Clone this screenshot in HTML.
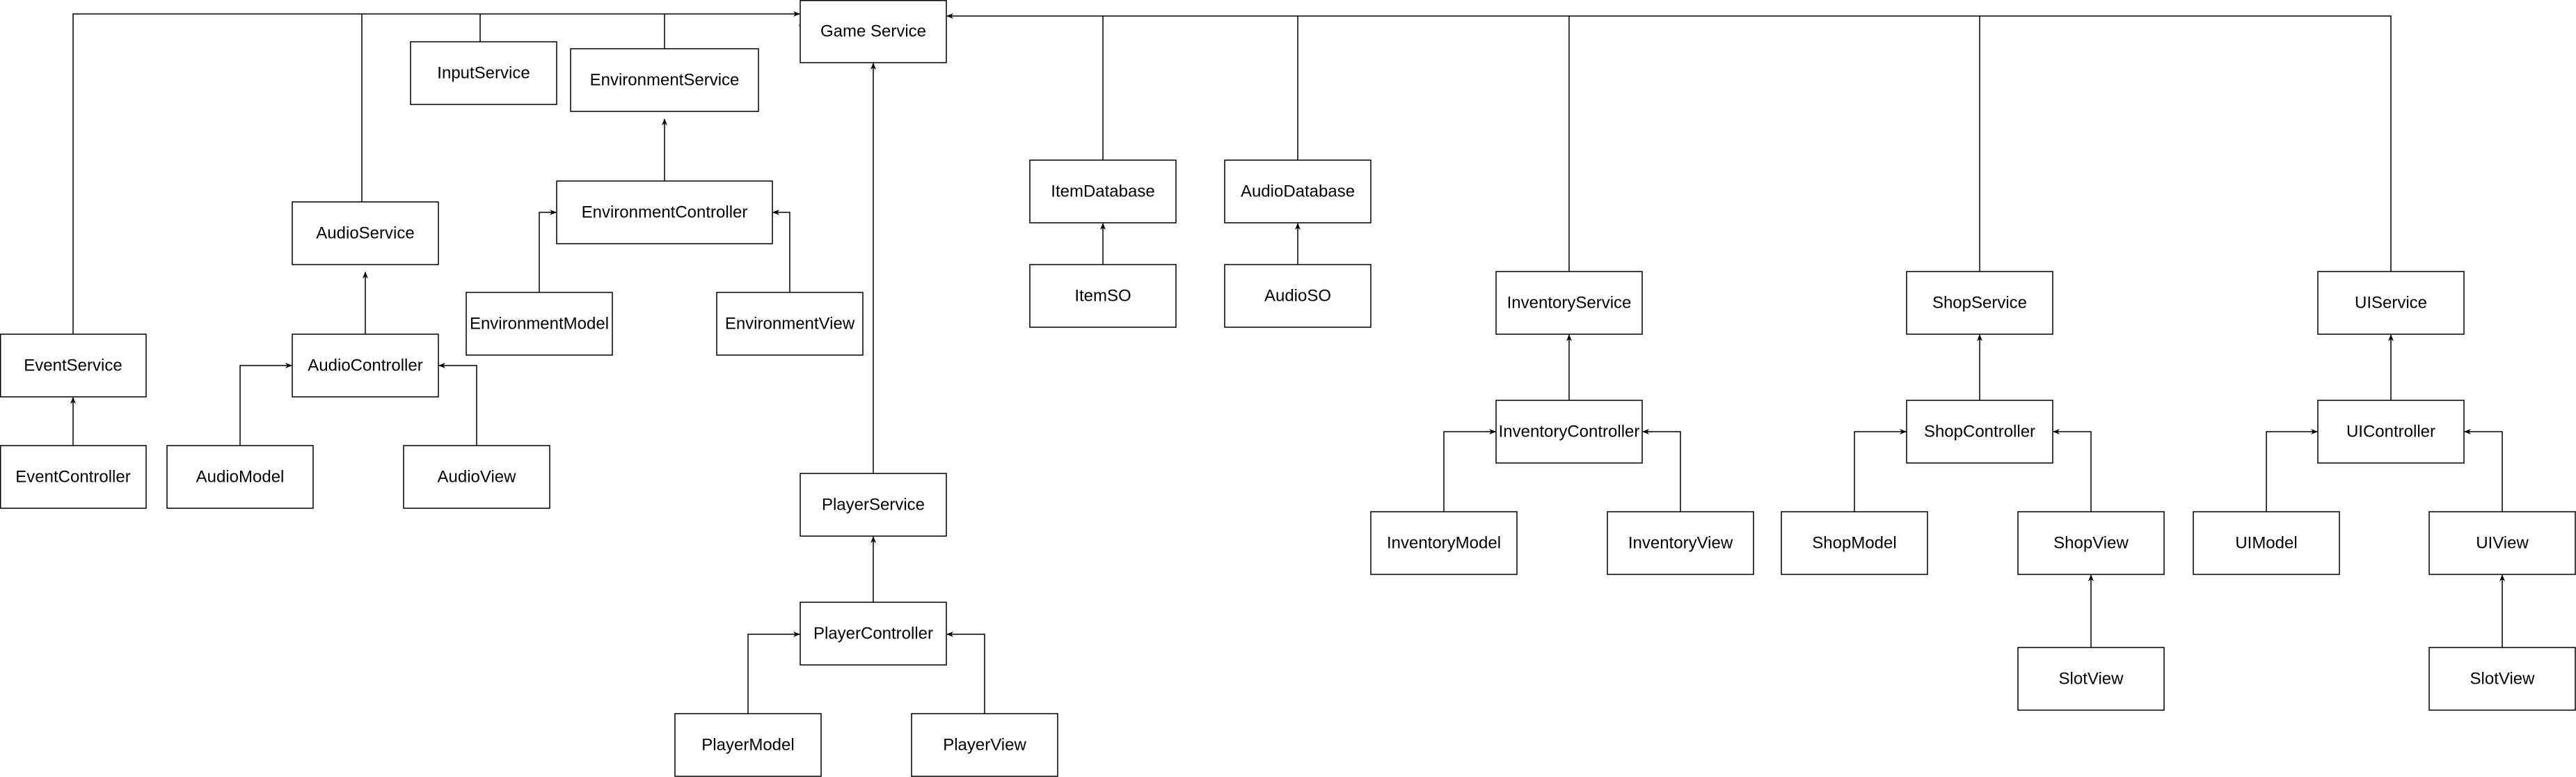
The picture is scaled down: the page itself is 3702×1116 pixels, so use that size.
<!DOCTYPE html>
<html><head><meta charset="utf-8"><style>
html,body{margin:0;padding:0;background:#fff;}
svg{display:block;}
text{font-family:"Liberation Sans",sans-serif;font-size:24px;fill:#000;}
</style></head><body>
<svg width="3702" height="1116" viewBox="0 0 3702 1116" xmlns="http://www.w3.org/2000/svg">
<defs>
<marker id="a" markerWidth="10" markerHeight="10" refX="9" refY="5" orient="auto" markerUnits="userSpaceOnUse">
<path d="M0,1 L10,5 L0,9 L3,5 Z" fill="#000"/>
</marker>
</defs>
<g fill="none" stroke="#000" stroke-width="1.5">
<!-- top left bus -->
<polyline points="105,480 105,20 1149,20" marker-end="url(#a)"/>
<line x1="520" y1="290" x2="520" y2="20"/>
<line x1="690" y1="60" x2="690" y2="20"/>
<line x1="955" y1="70" x2="955" y2="20"/>
<line x1="1152" y1="28" x2="1152" y2="44" marker-end="url(#a)"/>
<!-- right bus -->
<polyline points="3436,390 3436,23 1361,23" marker-end="url(#a)"/>
<line x1="1585" y1="230" x2="1585" y2="23"/>
<line x1="1865" y1="230" x2="1865" y2="23"/>
<line x1="2255" y1="390" x2="2255" y2="23"/>
<line x1="2845" y1="390" x2="2845" y2="23"/>
<!-- player -->
<line x1="1255" y1="680" x2="1255" y2="91" marker-end="url(#a)"/>
<line x1="1255" y1="865" x2="1255" y2="771" marker-end="url(#a)"/>
<polyline points="1075,1025 1075,911 1149,911" marker-end="url(#a)"/>
<polyline points="1415,1025 1415,911 1361,911" marker-end="url(#a)"/>
<!-- environment -->
<line x1="955" y1="260" x2="955" y2="171" marker-end="url(#a)"/>
<polyline points="775,420 775,305 799,305" marker-end="url(#a)"/>
<polyline points="1135,420 1135,305 1111,305" marker-end="url(#a)"/>
<!-- audio -->
<line x1="525" y1="480" x2="525" y2="391" marker-end="url(#a)"/>
<polyline points="345,640 345,525 419,525" marker-end="url(#a)"/>
<polyline points="685,640 685,525 631,525" marker-end="url(#a)"/>
<!-- event -->
<line x1="105" y1="640" x2="105" y2="571" marker-end="url(#a)"/>
<!-- db -->
<line x1="1585" y1="380" x2="1585" y2="321" marker-end="url(#a)"/>
<line x1="1865" y1="380" x2="1865" y2="321" marker-end="url(#a)"/>
<!-- inventory -->
<line x1="2255" y1="575" x2="2255" y2="481" marker-end="url(#a)"/>
<polyline points="2075,735 2075,620 2149,620" marker-end="url(#a)"/>
<polyline points="2415,735 2415,620 2361,620" marker-end="url(#a)"/>
<!-- shop -->
<line x1="2845" y1="575" x2="2845" y2="481" marker-end="url(#a)"/>
<polyline points="2665,735 2665,620 2739,620" marker-end="url(#a)"/>
<polyline points="3005,735 3005,620 2951,620" marker-end="url(#a)"/>
<line x1="3005" y1="930" x2="3005" y2="826" marker-end="url(#a)"/>
<!-- ui -->
<line x1="3436" y1="575" x2="3436" y2="481" marker-end="url(#a)"/>
<polyline points="3257,735 3257,620 3330,620" marker-end="url(#a)"/>
<polyline points="3596,735 3596,620 3542,620" marker-end="url(#a)"/>
<line x1="3596" y1="930" x2="3596" y2="826" marker-end="url(#a)"/>
</g>
<g fill="#fff" stroke="#000" stroke-width="1.5">
<rect x="1150" y="0.75" width="210" height="89.25"/>
<rect x="590" y="60" width="210" height="90"/>
<rect x="820" y="70" width="270" height="90"/>
<rect x="420" y="290" width="210" height="90"/>
<rect x="800" y="260" width="310" height="90"/>
<rect x="670" y="420" width="210" height="90"/>
<rect x="1030" y="420" width="210" height="90"/>
<rect x="0.75" y="480" width="209.25" height="90"/>
<rect x="420" y="480" width="210" height="90"/>
<rect x="0.75" y="640" width="209.25" height="90"/>
<rect x="240" y="640" width="210" height="90"/>
<rect x="580" y="640" width="210" height="90"/>
<rect x="1150" y="680" width="210" height="90"/>
<rect x="1150" y="865" width="210" height="90"/>
<rect x="970" y="1025" width="210" height="90"/>
<rect x="1310" y="1025" width="210" height="90"/>
<rect x="1480" y="230" width="210" height="90"/>
<rect x="1480" y="380" width="210" height="90"/>
<rect x="1760" y="230" width="210" height="90"/>
<rect x="1760" y="380" width="210" height="90"/>
<rect x="2150" y="390" width="210" height="90"/>
<rect x="2150" y="575" width="210" height="90"/>
<rect x="1970" y="735" width="210" height="90"/>
<rect x="2310" y="735" width="210" height="90"/>
<rect x="2740" y="390" width="210" height="90"/>
<rect x="2740" y="575" width="210" height="90"/>
<rect x="2560" y="735" width="210" height="90"/>
<rect x="2900" y="735" width="210" height="90"/>
<rect x="2900" y="930" width="210" height="90"/>
<rect x="3331" y="390" width="210" height="90"/>
<rect x="3331" y="575" width="210" height="90"/>
<rect x="3152" y="735" width="210" height="90"/>
<rect x="3491" y="735" width="210" height="90"/>
<rect x="3491" y="930" width="210" height="90"/>
</g>
<g text-anchor="middle" dominant-baseline="central">
<text x="1255" y="45">Game Service</text>
<text x="695" y="105">InputService</text>
<text x="955" y="115">EnvironmentService</text>
<text x="525" y="335">AudioService</text>
<text x="955" y="305">EnvironmentController</text>
<text x="775" y="465">EnvironmentModel</text>
<text x="1135" y="465">EnvironmentView</text>
<text x="105" y="525">EventService</text>
<text x="525" y="525">AudioController</text>
<text x="105" y="685">EventController</text>
<text x="345" y="685">AudioModel</text>
<text x="685" y="685">AudioView</text>
<text x="1255" y="725">PlayerService</text>
<text x="1255" y="910">PlayerController</text>
<text x="1075" y="1070">PlayerModel</text>
<text x="1415" y="1070">PlayerView</text>
<text x="1585" y="275">ItemDatabase</text>
<text x="1585" y="425">ItemSO</text>
<text x="1865" y="275">AudioDatabase</text>
<text x="1865" y="425">AudioSO</text>
<text x="2255" y="435">InventoryService</text>
<text x="2255" y="620">InventoryController</text>
<text x="2075" y="780">InventoryModel</text>
<text x="2415" y="780">InventoryView</text>
<text x="2845" y="435">ShopService</text>
<text x="2845" y="620">ShopController</text>
<text x="2665" y="780">ShopModel</text>
<text x="3005" y="780">ShopView</text>
<text x="3005" y="975">SlotView</text>
<text x="3436" y="435">UIService</text>
<text x="3436" y="620">UIController</text>
<text x="3257" y="780">UIModel</text>
<text x="3596" y="780">UIView</text>
<text x="3596" y="975">SlotView</text>
</g>
</svg>
</body></html>
